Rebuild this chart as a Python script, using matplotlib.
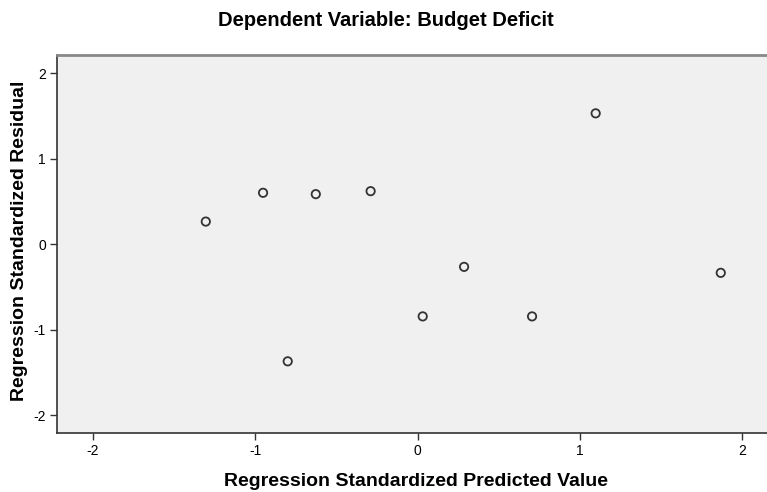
import matplotlib
matplotlib.use("Agg")
import matplotlib.pyplot as plt

plt.rcParams['font.family'] = ['Liberation Sans', 'DejaVu Sans']

predicted = [-1.305, -0.952, -0.627, -0.289, -0.800, 0.032, 0.287, 0.706, 1.098, 1.869]
residual = [0.265, 0.602, 0.586, 0.621, -1.371, -0.845, -0.265, -0.845, 1.532, -0.335]
ticks = [-2, -1, 0, 1, 2]
tick_labels = ['-2', '-1', '0', '1', '2']

fig = plt.figure(figsize=(7.67, 4.92), dpi=100)
ax = fig.add_axes([57/767, (492-433)/492, 1 - 57/767, (433-55)/492])
ax.set_facecolor('#F0F0F0')
ax.scatter(predicted, residual, s=36, facecolors='none', edgecolors='#333333', linewidths=1.3, zorder=3)

ax.set_xlim(-2.222, 2.154)
ax.set_ylim(-2.21, 2.215)
ax.set_xticks(ticks)
ax.set_xticklabels(tick_labels)
ax.set_yticks(ticks)
ax.set_yticklabels(tick_labels)
ax.tick_params(direction='out', length=5, width=1, color='#333333', labelsize=10, pad=3)

for s in ['left', 'bottom']:
    ax.spines[s].set_color('#333333')
    ax.spines[s].set_linewidth(1.2)
ax.spines['top'].set_color('#888888')
ax.spines['top'].set_linewidth(2)
ax.spines['right'].set_visible(False)

fig.text(386/767, 1 - 20/492, 'Dependent Variable: Budget Deficit', ha='center', va='center',
         fontsize=14.5, fontweight='bold')
fig.text(416/767, 1 - 481/492, 'Regression Standardized Predicted Value', ha='center', va='center',
         fontsize=14, fontweight='bold')
fig.text(20/767, 1 - 241/492, 'Regression Standardized Residual', ha='center', va='center',
         fontsize=14, fontweight='bold', rotation=90)

fig.savefig('out.png', dpi=100)
